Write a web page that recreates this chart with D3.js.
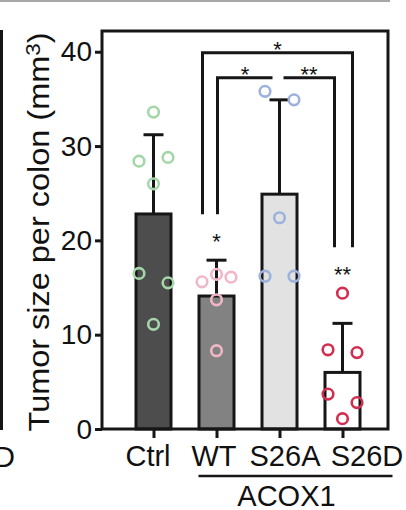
<!DOCTYPE html>
<meta charset="utf-8">
<title>Tumor size per colon</title>
<style>
body { margin: 0; background: #fff; }
text { font-family: "Liberation Sans", Arial, sans-serif; fill: #111; }
</style>
<body>
<script src="https://cdn.jsdelivr.net/npm/d3@7/dist/d3.min.js"></script>
<script>

// data
var groups = ["Ctrl", "WT", "S26A", "S26D"];
var means = [22.8, 14.1, 24.9, 6.0];
var sds = [8.4, 3.8, 10.0, 5.2];
var ctrlPts = [33.6, 28.8, 28.4, 26.0, 16.5, 15.5, 11.1];
var wtPts = [16.4, 16.1, 15.6, 13.7, 8.3];
var s26aPts = [35.8, 34.9, 22.4, 16.2, 16.2];
var s26dPts = [14.4, 8.4, 8.1, 3.7, 2.8, 1.1];
var yTicks = [0, 10, 20, 30, 40];
var barStars = ["", "*", "", "**"];
var brackets = [["WT", "S26D", "*"], ["WT", "S26A", "*"], ["S26A", "S26D", "**"]];

// layout
var w = 406, h = 510;
var fL = 102, fR = 388, fT = 31, fB = 429;
var fills = ["#4d4d4d", "#828282", "#e2e2e2", "#ffffff"];
var dotColors = ["#a5d6a9", "#f2b7c7", "#9cb2dc", "#d22f50"];
var dotSlots = [[0, 1, -1, 0, -1, 1, 0], [0, 1, -1, 0, 0], [-1, 1, 0, -1, 1], [0, -1, 1, -1, 1, 0]];
var labelShift = [-6, -3, 5, 24];
// bracket end offsets [left, right], and whether each end has a leg
var brLayout = [
  {off: [-14, 10], legs: [true, true], lift: 47},
  {off: [1, -7], legs: [true, false], lift: 22},
  {off: [4, -8], legs: [false, true], lift: 22}
];
var ink = "#161616";

var pts = [ctrlPts, wtPts, s26aPts, s26dPts];

var svg = d3.select("body").append("svg")
    .attr("width", w)
    .attr("height", h);

var x = d3.scalePoint().domain(groups).range([122, 374]).padding(0.5);
var y = d3.scaleLinear().domain([0, 42.2]).range([fB, fT]);

// bits of the neighbouring panels
svg.append("line").attr("x1", 0).attr("x2", 390).attr("y1", 1).attr("y2", 1)
    .attr("stroke", "#a8a8a8").attr("stroke-width", 2);
svg.append("line").attr("x1", 1.5).attr("x2", 1.5).attr("y1", 30).attr("y2", 430)
    .attr("stroke", ink).attr("stroke-width", 3);
svg.append("text").attr("x", 15).attr("y", 467).attr("text-anchor", "end")
    .style("font-size", "29px").text("D");

// bars
svg.selectAll("rect.bar")
    .data(groups)
  .enter().append("rect")
    .attr("class", "bar")
    .attr("x", function(d) { return x(d) - 17.5; })
    .attr("width", 35)
    .attr("y", function(d, i) { return y(means[i]); })
    .attr("height", function(d, i) { return y(0) - y(means[i]); })
    .attr("fill", function(d, i) { return fills[i]; })
    .attr("stroke", ink)
    .attr("stroke-width", 3);

// error bars (upper only)
var eb = svg.selectAll("g.err")
    .data(groups)
  .enter().append("g")
    .attr("class", "err")
    .attr("stroke", ink)
    .attr("stroke-width", 3);
eb.append("line")
    .attr("x1", function(d) { return x(d); })
    .attr("x2", function(d) { return x(d); })
    .attr("y1", function(d, i) { return y(means[i]); })
    .attr("y2", function(d, i) { return y(means[i] + sds[i]); });
eb.append("line")
    .attr("x1", function(d) { return x(d) - 10; })
    .attr("x2", function(d) { return x(d) + 10; })
    .attr("y1", function(d, i) { return y(means[i] + sds[i]); })
    .attr("y2", function(d, i) { return y(means[i] + sds[i]); });

// dots
groups.forEach(function(g, i) {
  svg.selectAll("circle.g" + i)
      .data(pts[i])
    .enter().append("circle")
      .attr("class", "g" + i)
      .attr("cx", function(d, j) { return x(g) + dotSlots[i][j] * 14.5; })
      .attr("cy", function(d) { return y(d); })
      .attr("r", 5.3)
      .attr("fill", "none")
      .attr("stroke", dotColors[i])
      .attr("stroke-width", 2.6);
});

// stars over bars
function starY(i) {
  var top = Math.max(means[i] + sds[i], d3.max(pts[i]));
  return y(top) - 23;
}
svg.selectAll("text.star")
    .data(groups)
  .enter().append("text")
    .attr("class", "star")
    .attr("x", function(d) { return x(d); })
    .attr("y", function(d, i) { return starY(i) + 12; })
    .attr("text-anchor", "middle")
    .style("font-size", "22px")
    .text(function(d, i) { return barStars[i]; });

// significance brackets
var capTop = y(d3.max(means.map(function(m, i) { return m + sds[i]; })));
brackets.forEach(function(b, k) {
  var L = brLayout[k];
  var x1 = x(b[0]) + L.off[0], x2 = x(b[1]) + L.off[1];
  var yb = capTop - L.lift;
  var leg1 = L.legs[0] ? starY(groups.indexOf(b[0])) - 23 : yb;
  var leg2 = L.legs[1] ? starY(groups.indexOf(b[1])) - 23 : yb;
  svg.append("path")
      .attr("d", "M" + x1 + "," + leg1 + "V" + yb + "H" + x2 + "V" + leg2)
      .attr("fill", "none")
      .attr("stroke", ink)
      .attr("stroke-width", 3);
  svg.append("text")
      .attr("x", (x1 + x2) / 2)
      .attr("y", yb - 8 + 12)
      .attr("text-anchor", "middle")
      .style("font-size", "22px")
      .text(b[2]);
});

// axes
var yAxis = svg.append("g")
    .attr("transform", "translate(" + fL + ",0)")
    .call(d3.axisLeft(y).tickValues(yTicks).tickSize(7).tickSizeOuter(0).tickPadding(3));
yAxis.selectAll("text").style("font-size", "28px").attr("fill", ink).attr("dy", "0.33em");

var xAxis = svg.append("g")
    .attr("transform", "translate(0," + fB + ")")
    .call(d3.axisBottom(x).tickSize(9).tickSizeOuter(0).tickPadding(7));
xAxis.selectAll("text")
    .style("font-size", "29px")
    .attr("fill", ink)
    .attr("dx", function(d, i) { return labelShift[i]; });

svg.selectAll(".tick line").attr("stroke", ink).attr("stroke-width", 3);
svg.selectAll(".domain").remove();

// frame
svg.append("rect")
    .attr("x", fL).attr("y", fT)
    .attr("width", fR - fL).attr("height", fB - fT)
    .attr("fill", "none")
    .attr("stroke", ink)
    .attr("stroke-width", 3);

// ACOX1 grouping
var gx1 = x("WT") - 18, gx2 = x("S26D") + 50;
svg.append("line")
    .attr("x1", gx1).attr("x2", gx2).attr("y1", 476).attr("y2", 476)
    .attr("stroke", ink).attr("stroke-width", 2.5);
svg.append("text")
    .attr("x", (x("WT") + x("S26D")) / 2 + 7)
    .attr("y", 506)
    .attr("text-anchor", "middle")
    .style("font-size", "29px")
    .text("ACOX1");

// y label
var yl = svg.append("text")
    .attr("transform", "translate(49,232) rotate(-90) scale(1.12,1)")
    .attr("text-anchor", "middle")
    .style("font-size", "29px");
yl.append("tspan").text("Tumor size per colon (mm");
yl.append("tspan").attr("dy", "-0.45em").style("font-size", "20px").text("3");
yl.append("tspan").attr("dy", "0.31em").text(")");

</script>
